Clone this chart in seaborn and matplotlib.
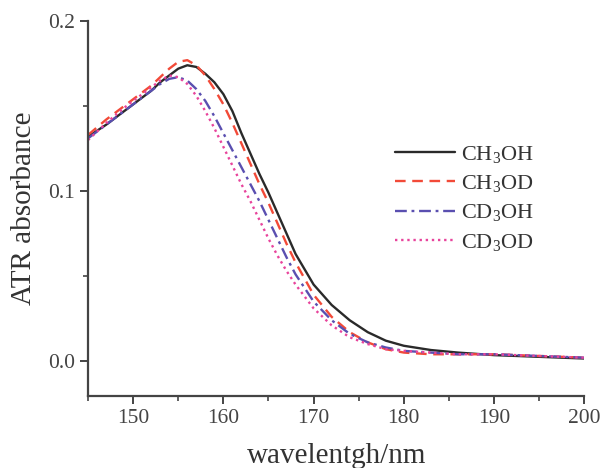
import numpy as np
import pandas as pd
import matplotlib
matplotlib.use("Agg")
import matplotlib.pyplot as plt
import seaborn as sns
from matplotlib.ticker import MultipleLocator

wavelength = [145, 147, 149, 151, 152, 153, 154, 155, 156, 157, 158, 159, 160,
              161, 162, 163, 164, 165, 166, 167, 168, 170, 172, 174, 176, 178,
              180, 183, 186, 190, 195, 200]

ch3oh = [0.132, 0.139, 0.147, 0.155, 0.159, 0.164, 0.168, 0.172, 0.174, 0.173,
         0.169, 0.164, 0.157, 0.147, 0.134, 0.122, 0.110, 0.099, 0.087, 0.075,
         0.063, 0.045, 0.033, 0.024, 0.017, 0.012, 0.009, 0.0065, 0.005,
         0.0035, 0.0025, 0.0015]
ch3od = [0.133, 0.142, 0.150, 0.158, 0.162, 0.167, 0.172, 0.176, 0.177, 0.174,
         0.168, 0.160, 0.151, 0.140, 0.128, 0.116, 0.104, 0.093, 0.081, 0.069,
         0.058, 0.039, 0.026, 0.017, 0.011, 0.007, 0.005, 0.004, 0.004,
         0.004, 0.003, 0.002]
cd3oh = [0.131, 0.139, 0.147, 0.155, 0.159, 0.163, 0.166, 0.167, 0.165, 0.160,
         0.153, 0.144, 0.134, 0.124, 0.114, 0.104, 0.094, 0.083, 0.072, 0.061,
         0.051, 0.035, 0.024, 0.016, 0.011, 0.008, 0.006, 0.005, 0.004,
         0.004, 0.003, 0.002]
cd3od = [0.130, 0.140, 0.149, 0.157, 0.161, 0.165, 0.168, 0.167, 0.163, 0.156,
         0.147, 0.137, 0.126, 0.115, 0.104, 0.094, 0.083, 0.072, 0.062, 0.053,
         0.045, 0.031, 0.021, 0.014, 0.010, 0.007, 0.006, 0.005, 0.004,
         0.004, 0.003, 0.002]

labels = [r"CH$_3$OH", r"CH$_3$OD", r"CD$_3$OH", r"CD$_3$OD"]
series = [ch3oh, ch3od, cd3oh, cd3od]
colors = ["#2a2a2a", "#f24a38", "#5a4fb0", "#e8449c"]
dashes = ["", (4.5, 2.8), (5, 2, 1.2, 2), (1.0, 1.6)]

x_ticks = [150, 160, 170, 180, 190, 200]
y_ticks = [0.0, 0.1, 0.2]

sns.set_style("ticks")
plt.rcParams["font.family"] = ["Liberation Serif", "DejaVu Serif"]
plt.rcParams["mathtext.fontset"] = "custom"
plt.rcParams["mathtext.rm"] = "Liberation Serif"
plt.rcParams["mathtext.default"] = "regular"

df = pd.concat([pd.DataFrame({"wavelength": wavelength, "absorbance": s, "sample": l})
                for s, l in zip(series, labels)], ignore_index=True)

fig = plt.figure(figsize=(6.03, 4.68), dpi=100)
ax = fig.add_axes([0.146, 0.154, 0.823, 0.801])

sns.lineplot(data=df, x="wavelength", y="absorbance", hue="sample", style="sample",
             palette=dict(zip(labels, colors)), dashes=dict(zip(labels, dashes)),
             hue_order=labels, style_order=labels, linewidth=1.7, ax=ax,
             legend="auto")

ax.set_xlim(145, 200)
ax.set_ylim(-0.0205, 0.2)
ax.set_xticks(x_ticks)
ax.set_yticks(y_ticks)
ax.set_yticklabels([f"{v:.1f}" for v in y_ticks])
ax.xaxis.set_minor_locator(MultipleLocator(5))
ax.yaxis.set_minor_locator(MultipleLocator(0.05))

for sp in ["top", "right"]:
    ax.spines[sp].set_visible(False)
for sp in ["left", "bottom"]:
    ax.spines[sp].set_color("#444444")
    ax.spines[sp].set_linewidth(1.6)

ax.tick_params(which="major", direction="out", length=6, width=1.4, color="#444444",
               labelsize=15.5, labelcolor="#444444")
ax.tick_params(which="minor", direction="out", length=3.5, width=1.2, color="#444444")

ax.set_xlabel("wavelentgh/nm", fontsize=21, color="#333333", labelpad=11)
ax.set_ylabel("ATR absorbance", fontsize=21, color="#333333", labelpad=8)

handles, labs = ax.get_legend_handles_labels()
leg = ax.legend(handles, labs, loc="upper left", bbox_to_anchor=(0.6, 0.697),
                frameon=False, fontsize=16, handlelength=2.7, handletextpad=0.3,
                labelspacing=0.38, borderaxespad=0)
for t in leg.get_texts():
    t.set_color("#333333")

fig.savefig("out.png", dpi=100)
